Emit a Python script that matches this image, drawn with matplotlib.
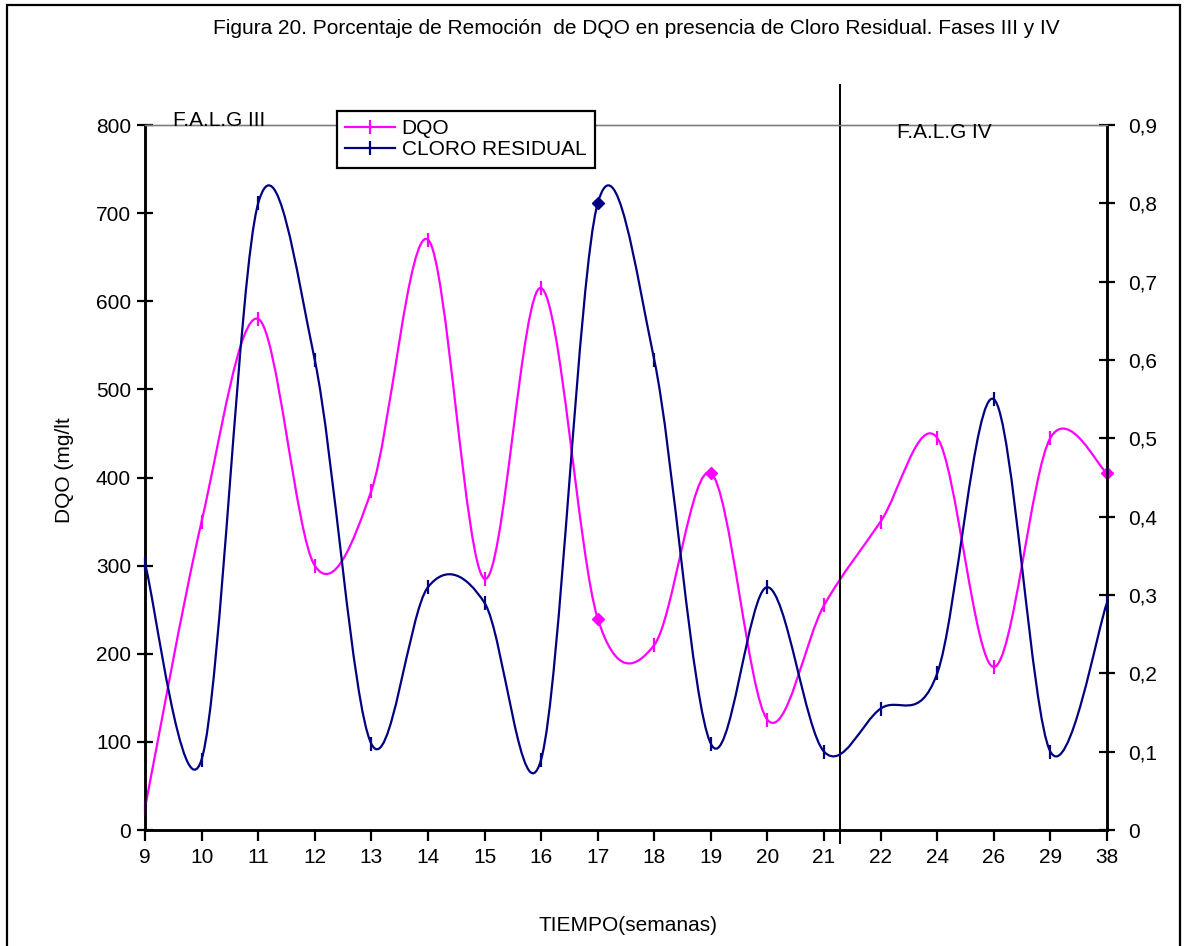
import numpy as np
import matplotlib
matplotlib.use("Agg")
import matplotlib.pyplot as plt
from matplotlib.path import Path
from matplotlib.patches import PathPatch, Rectangle
from matplotlib.lines import Line2D
import matplotlib.transforms as mtransforms
from matplotlib.ticker import FuncFormatter

plt.rcParams['font.family'] = ['Liberation Sans', 'DejaVu Sans']

# Weeks (categorical x axis)
semanas = ['9', '10', '11', '12', '13', '14', '15', '16', '17', '18', '19',
           '20', '21', '22', '24', '26', '29', '38']
# DQO (mg/lt), left axis
dqo = [25, 350, 580, 300, 385, 670, 285, 615, 240, 210, 405,
       125, 255, 350, 445, 185, 445, 405]
# Residual chlorine, right axis
cloro = [0.34, 0.09, 0.80, 0.60, 0.11, 0.31, 0.29, 0.09, 0.80, 0.60, 0.11,
         0.31, 0.10, 0.155, 0.20, 0.55, 0.10, 0.29]
# Points drawn with a diamond marker instead of a dash
dqo_diamonds = ['17', '19', '38']
cloro_diamonds = ['17']
# Phase IV starts shortly after week 21
fase_iv_inicio = semanas.index('21') + 0.28

W, H = 1186, 946
fig = plt.figure(figsize=(W / 100, H / 100), dpi=100)
fig.patch.set_facecolor('white')

ax = fig.add_axes([145 / W, (H - 830) / H, (1107 - 145) / W, 705 / H])
ax2 = ax.twinx()

MAGENTA = '#FF00FF'
NAVY = '#000080'
FS = 15


def smooth_path(xs, ys):
    """Bezier spline through the points (tension 1/6, spreadsheet style)."""
    pts = np.column_stack([xs, ys]).astype(float)
    n = len(pts)
    verts = [pts[0]]
    codes = [Path.MOVETO]
    for i in range(n - 1):
        p0 = pts[i - 1] if i > 0 else pts[i]
        p1 = pts[i]
        p2 = pts[i + 1]
        p3 = pts[i + 2] if i + 2 < n else pts[i + 1]
        c1 = p1 + (p2 - p0) / 6.0
        c2 = p2 - (p3 - p1) / 6.0
        verts += [c1, c2, p2]
        codes += [Path.CURVE4] * 3
    return Path(verts, codes)


x = np.arange(len(semanas))


def draw_series(axis, values, color, diamonds):
    axis.add_patch(PathPatch(smooth_path(x, values), facecolor='none',
                             edgecolor=color, lw=1.6, zorder=3))
    dash_idx = [i for i, s in enumerate(semanas) if s not in diamonds]
    dia_idx = [i for i, s in enumerate(semanas) if s in diamonds]
    axis.plot(x[dash_idx], np.array(values)[dash_idx], ls='none', marker='|',
              ms=10, mew=1.6, color=color, zorder=4, clip_on=False)
    axis.plot(x[dia_idx], np.array(values)[dia_idx], ls='none', marker='D',
              ms=6, color=color, zorder=4, clip_on=False)


draw_series(ax, dqo, MAGENTA, dqo_diamonds)
draw_series(ax2, cloro, NAVY, cloro_diamonds)

ax.set_xlim(0, len(semanas) - 1)
ax.set_ylim(0, 800)
ax2.set_ylim(0, 0.9)
ax.margins(0)

ax.set_xticks(x)
ax.set_xticklabels(semanas, fontsize=FS)
ax.set_yticks(np.arange(0, 801, 100))
ax.tick_params(axis='x', direction='out', length=8, width=1.6, pad=5)
ax.tick_params(axis='y', direction='inout', length=12, width=1.6, pad=4,
               labelsize=FS)
ax2.set_yticks(np.arange(0, 0.91, 0.1))
ax2.yaxis.set_major_formatter(
    FuncFormatter(lambda v, p: ('%g' % round(v, 2)).replace('.', ',')))
ax2.tick_params(axis='y', direction='inout', length=12, width=1.6, pad=9,
                labelsize=FS)

for a in (ax, ax2):
    a.spines['left'].set_linewidth(1.8)
    a.spines['bottom'].set_linewidth(1.8)
    a.spines['right'].set_linewidth(1.8)
    a.spines['top'].set_color('#808080')
    a.spines['top'].set_linewidth(1.0)
    a.set_facecolor('none')

# Phase separator
trans = mtransforms.blended_transform_factory(ax.transData, ax.transAxes)
ax.plot([fase_iv_inicio, fase_iv_inicio], [-0.018, 1.057], transform=trans,
        color='black', lw=1.4, clip_on=False, zorder=5)

# Texts
fig.text(636 / W, 1 - 28 / H,
         'Figura 20. Porcentaje de Remoción  de DQO en presencia de Cloro Residual. Fases III y IV',
         ha='center', va='center', fontsize=FS)
fig.text(173 / W, 1 - 126 / H, 'F.A.L.G III', ha='left', va='baseline',
         fontsize=FS)
fig.text(897 / W, 1 - 133 / H, 'F.A.L.G IV', ha='left', va='center',
         fontsize=FS)
fig.text(65 / W, 1 - 470 / H, 'DQO (mg/lt', rotation=90, ha='center',
         va='center', fontsize=FS)
fig.text(628 / W, 1 - 925 / H, 'TIEMPO(semanas)', ha='center', va='center',
         fontsize=FS)

# Legend
handles = [Line2D([], [], color=MAGENTA, lw=1.6, marker='|', ms=10, mew=1.6),
           Line2D([], [], color=NAVY, lw=1.6, marker='|', ms=10, mew=1.6)]
leg = fig.legend(handles, ['DQO', 'CLORO RESIDUAL'], loc='upper left',
                 bbox_to_anchor=(337 / W, 1 - 111 / H), borderaxespad=0,
                 fontsize=FS, frameon=True, fancybox=False, framealpha=1,
                 edgecolor='black', handlelength=2.4, handletextpad=0.3,
                 labelspacing=0.1, borderpad=0.4)
leg.get_frame().set_linewidth(1.6)

# Outer frame
fig.patches.append(Rectangle((7 / W, -0.05), (1180 - 7) / W, 1.05 - 5 / H,
                             transform=fig.transFigure, fill=False,
                             edgecolor='black', lw=1.6))

fig.savefig('out.png', dpi=100)
